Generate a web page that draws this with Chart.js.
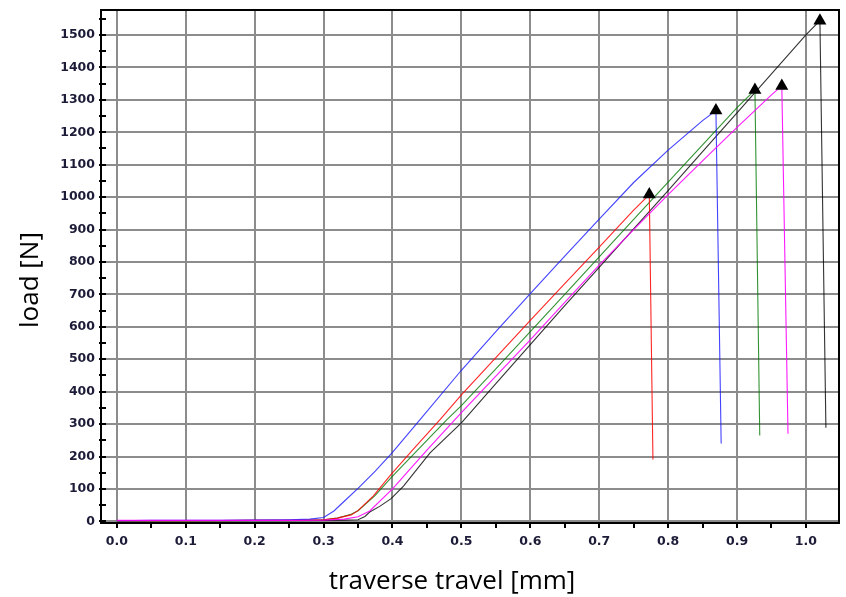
<!DOCTYPE html>
<html><head><meta charset="utf-8">
<script src="https://cdn.jsdelivr.net/npm/chart.js@4/dist/chart.umd.min.js"></script>
<style>html,body{margin:0;padding:0;background:#fff;}canvas{display:block;}</style>
</head><body>
<canvas id="c" width="846" height="597"></canvas>
<script>
// ---- tick labels and titles ----
const xTickLabels = ['0.0','0.1','0.2','0.3','0.4','0.5','0.6','0.7','0.8','0.9','1.0'];
const yTickLabels = ['0','100','200','300','400','500','600','700','800','900','1000','1100','1200','1300','1400','1500'];
const xTitle = 'traverse travel [mm]';
const yTitle = 'load [N]';

// ---- series (traverse travel in mm, load in N) ----
const travelMagenta = [0.00,0.10,0.20,0.25,0.30,0.33,0.35,0.367,0.40,0.45,0.50,0.55,0.60,0.65,0.70,0.75,0.80,0.85,0.90,0.95,0.965,0.974];
const loadMagenta   = [3,3,3,3,4,7,14,32,100,220,335,448,560,675,790,900,1008,1112,1215,1315,1343,270];

const travelBlue = [0.00,0.05,0.10,0.15,0.20,0.25,0.28,0.30,0.315,0.33,0.35,0.375,0.40,0.44,0.50,0.55,0.60,0.65,0.70,0.75,0.80,0.85,0.8694,0.877];
const loadBlue   = [2,3,3,3,4,5,7,12,32,62,102,155,213,314,466,585,702,818,932,1045,1145,1236,1267,240];

const travelRed = [0.00,0.10,0.20,0.25,0.30,0.32,0.34,0.35,0.372,0.398,0.43,0.469,0.50,0.55,0.60,0.65,0.70,0.75,0.7727,0.778];
const loadRed   = [2,2,3,3,5,10,20,33,78,145,222,314,390,505,620,733,846,960,1008,191];

const travelGreen = [0.00,0.10,0.20,0.25,0.30,0.32,0.34,0.35,0.375,0.398,0.45,0.479,0.50,0.55,0.60,0.65,0.70,0.75,0.80,0.85,0.90,0.926,0.933];
const loadGreen   = [2,2,3,3,5,10,22,33,80,135,250,314,357,470,585,700,816,931,1046,1161,1276,1330,265];

const travelBlack = [0.00,0.10,0.20,0.25,0.30,0.33,0.35,0.36,0.367,0.382,0.398,0.416,0.4545,0.50,0.55,0.60,0.65,0.70,0.75,0.80,0.85,0.90,0.95,1.00,1.0203,1.029];
const loadBlack   = [2,2,2,2,3,4,5,15,29,47,70,109,211,304,425,545,665,783,902,1020,1140,1260,1380,1500,1544,289];

function pts(xs, ys){ return xs.map((x,i)=>({x:x, y:ys[i]})); }
function peakIndex(ys){ let m=0; ys.forEach((v,i)=>{ if(v>ys[m]) m=i; }); return m; }

function makeSet(label, xs, ys, color){
  const pk = peakIndex(ys);
  return {
    label: label,
    data: pts(xs, ys),
    borderColor: color,
    borderWidth: 1.1,
    tension: 0,
    fill: false,
    pointStyle: 'triangle',
    pointRadius: ctx => ctx.dataIndex === pk ? 7.5 : 0,
    pointBackgroundColor: '#000',
    pointBorderColor: '#000',
    pointBorderWidth: 0,
    pointHoverRadius: 0
  };
}

const xMajor = xTickLabels.map(Number);
const yMajor = yTickLabels.map(Number);
const xTickValues = [];
xMajor.forEach(v => { xTickValues.push(v); if (v + 0.05 < 1.048) xTickValues.push(+(v + 0.05).toFixed(2)); });
const yTickValues = [];
yMajor.forEach(v => { yTickValues.push(v); if (v + 50 < 1577) yTickValues.push(v + 50); });

function isMajorX(v){ return xMajor.some(m => Math.abs(m - v) < 1e-6); }
function isMajorY(v){ return yMajor.some(m => Math.abs(m - v) < 1e-6); }

const GRID = '#8c8c8c';
const TICKFONT = {family: 'DejaVu Sans', size: 12.5, weight: 'bold'};
const TICKCOLOR = '#1c1c38';

const framePlugin = {
  id: 'frame',
  afterDraw(chart){
    const {ctx, chartArea: a, scales: {x, y}} = chart;
    ctx.save();
    ctx.strokeStyle = '#000';
    ctx.lineWidth = 2;
    ctx.beginPath();
    ctx.moveTo(a.left, a.top); ctx.lineTo(a.right, a.top); ctx.lineTo(a.right, a.bottom);
    ctx.stroke();
    // tick marks
    ctx.beginPath();
    x.ticks.forEach(t => { const px = Math.round(x.getPixelForValue(t.value)); ctx.moveTo(px, a.bottom - 1); ctx.lineTo(px, a.bottom + 5); });
    y.ticks.forEach(t => { const py = Math.round(y.getPixelForValue(t.value)); ctx.moveTo(a.left - 2, py); ctx.lineTo(a.left + 5, py); });
    ctx.stroke();
    // axis titles
    ctx.fillStyle = '#000';
    ctx.font = '26px "Open Sans"';
    ctx.textAlign = 'center';
    ctx.textBaseline = 'middle';
    ctx.fillText(xTitle, 452, 582);
    ctx.translate(31, 280);
    ctx.rotate(-Math.PI/2);
    ctx.fillText(yTitle, 0, 0);
    ctx.restore();
  }
};

new Chart(document.getElementById('c'), {
  type: 'line',
  data: {
    datasets: [
      makeSet('magenta', travelMagenta, loadMagenta, 'rgba(255,0,255,0.9)'),
      makeSet('blue', travelBlue, loadBlue, 'rgba(20,20,255,0.8)'),
      makeSet('red', travelRed, loadRed, 'rgba(255,0,0,0.85)'),
      makeSet('green', travelGreen, loadGreen, 'rgba(0,120,0,0.8)'),
      makeSet('black', travelBlack, loadBlack, 'rgba(0,0,0,0.8)')
    ]
  },
  options: {
    responsive: false,
    animation: false,
    devicePixelRatio: 1,
    layout: {padding: {left: 0, right: 7, top: 10, bottom: 0}},
    plugins: {legend: {display: false}, tooltip: {enabled: false}},
    events: [],
    scales: {
      x: {
        type: 'linear',
        min: -0.023, max: 1.048,
        afterBuildTicks: s => { s.ticks = xTickValues.map(v => ({value: v})); },
        afterFit: s => { s.height = 74; s.paddingLeft = 0; s.paddingRight = 0; },
        grid: {
          drawTicks: false,
          lineWidth: 2,
          color: c => (c.tick && isMajorX(c.tick.value)) ? GRID : 'rgba(0,0,0,0)'
        },
        border: {display: true, color: '#000', width: 2},
        ticks: {
          autoSkip: false, maxRotation: 0, padding: 11,
          color: TICKCOLOR, font: TICKFONT,
          callback: v => { const i = xMajor.findIndex(m => Math.abs(m - v) < 1e-6); return i >= 0 ? xTickLabels[i] : ''; }
        },
        title: {display: false}
      },
      y: {
        type: 'linear',
        min: -5, max: 1577,
        afterBuildTicks: s => { s.ticks = yTickValues.map(v => ({value: v})); },
        afterFit: s => { s.width = 101; s.paddingTop = 0; s.paddingBottom = 0; },
        grid: {
          drawTicks: false,
          lineWidth: 2,
          color: c => (c.tick && isMajorY(c.tick.value)) ? GRID : 'rgba(0,0,0,0)'
        },
        border: {display: true, color: '#000', width: 2},
        ticks: {
          autoSkip: false, padding: 6,
          color: TICKCOLOR, font: TICKFONT,
          callback: v => { const i = yMajor.findIndex(m => Math.abs(m - v) < 1e-6); return i >= 0 ? yTickLabels[i] : ''; }
        },
        title: {display: false}
      }
    }
  },
  plugins: [framePlugin]
});
</script>
</body></html>
